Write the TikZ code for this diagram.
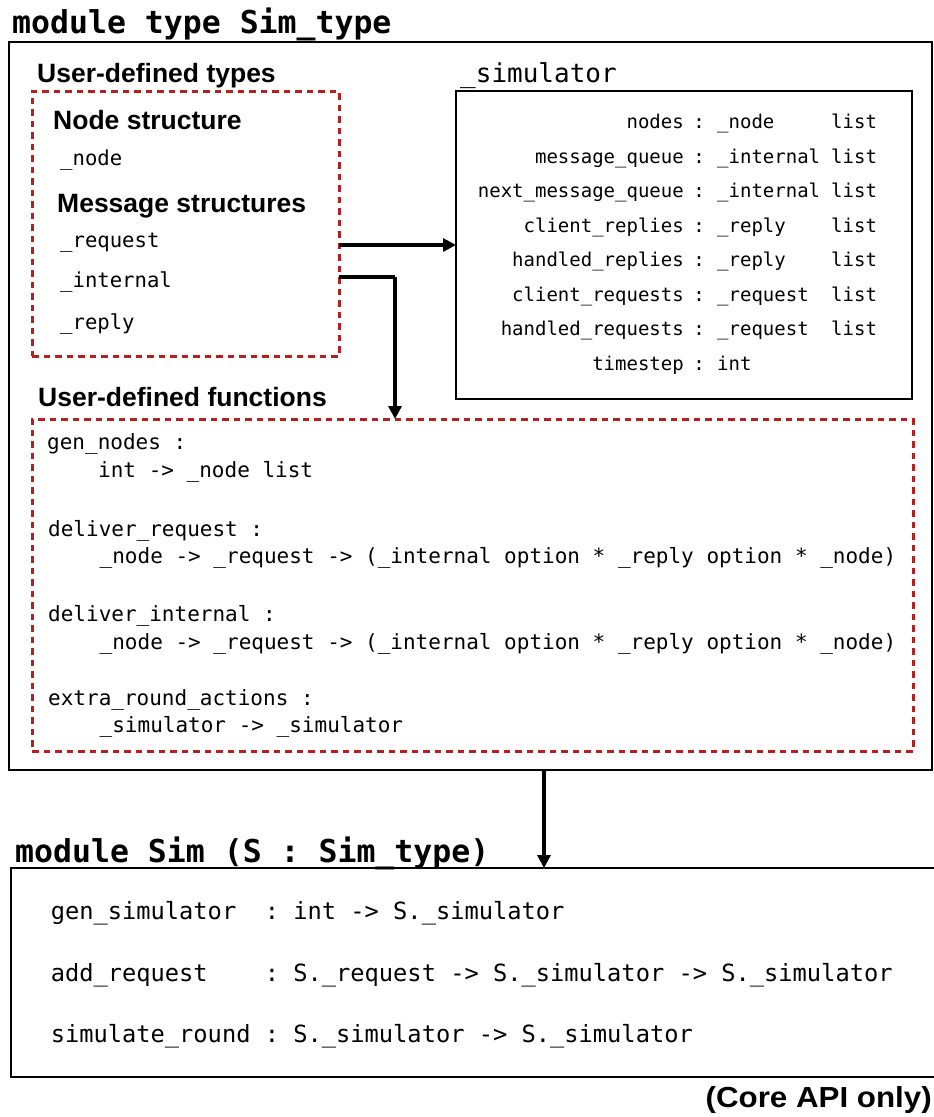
\documentclass[tikz,border=0pt]{standalone}
\usepackage{fontspec}
\setmainfont{Liberation Sans}
\newfontfamily\monof{DejaVu Sans Mono}
\newfontfamily\headf{Liberation Sans}
\newfontfamily\coref[FakeStretch=1.08]{Liberation Sans}
\usetikzlibrary{arrows.meta}
\definecolor{dred}{RGB}{180,32,32}
\frenchspacing
\begin{document}
\begin{tikzpicture}[x=1pt,y=-1pt,
  box/.style={draw=black, line width=1.6pt, inner sep=0, outer sep=0, anchor=north west},
  redbox/.style={draw=dred, line width=3pt, dash pattern=on 6.5pt off 5pt, inner sep=0, outer sep=0, anchor=north west},
  conn/.style={line width=3.5pt, -{Triangle[length=13pt,width=13pt]}},
  title/.style={font=\monof\bfseries\fontsize{31.5}{36}\selectfont, anchor=base west, inner sep=0},
  head/.style={font=\headf\bfseries\fontsize{26.5}{30}\selectfont, anchor=base west, inner sep=0},
  tname/.style={font=\monof\fontsize{20.6}{24}\selectfont, anchor=base west, inner sep=0},
  sfield/.style={font=\monof\fontsize{19}{22}\selectfont, inner sep=0},
  func/.style={font=\monof\fontsize{21}{24}\selectfont, anchor=base west, inner sep=0},
  api/.style={font=\monof\fontsize{23.7}{28}\selectfont, anchor=base west, inner sep=0}
]
\useasboundingbox (0,0) rectangle (934,1117);

% boxes
\node[box, minimum width=923, minimum height=728] (outer) at (9,42) {};
\node[redbox, minimum width=307, minimum height=265] (types) at (32,91) {};
\node[box, minimum width=456, minimum height=308] (sim) at (456,91) {};
\node[redbox, minimum width=881, minimum height=332] (funcs) at (32,419) {};
\node[box, minimum width=940, minimum height=209] (simmod) at (11,868) {};

% titles
\node[title] (t1) at (12,33) {module type Sim\_type};
\node[title] (t2) at (15,862) {module Sim (S : Sim\_type)};

% user-defined types
\node[head] (h1) at (37,82) {User-defined types};
\node[head] (h2) at (53,129) {Node structure};
\node[tname] (tn) at (60,165) {\_node};
\node[head] (h3) at (57,212) {Message structures};
\node[tname] (req) at (60,247) {\_request};
\node[tname] (int) at (60,287) {\_internal};
\node[tname] (rep) at (60,329) {\_reply};

% simulator
\node[font=\monof\fontsize{26}{30}\selectfont, anchor=base west, inner sep=0] (simlab) at (460,82) {\_simulator};
\foreach \n/\t/\l [count=\i from 0] in {
  nodes/\_node/list,
  message\_queue/\_internal/list,
  next\_message\_queue/\_internal/list,
  client\_replies/\_reply/list,
  handled\_replies/\_reply/list,
  client\_requests/\_request/list,
  handled\_requests/\_request/list,
  timestep/int/{}}{
  \pgfmathsetmacro{\yy}{128.8+34.5*\i}
  \node[sfield, anchor=base east] (sn\i) at (684,\yy) {\n};
  \node[sfield, anchor=base] (sc\i) at (699,\yy) {:};
  \node[sfield, anchor=base west] (st\i) at (717,\yy) {\t};
  \node[sfield, anchor=base west] (sl\i) at (831,\yy) {\l};
}

% user-defined functions
\node[head] (h4) at (38,406) {User-defined functions};
\node[func] (f1) at (47,449) {gen\_nodes :};
\node[func] (f2) at (98,477) {int -> \_node list};
\node[func] (f3) at (48,536) {deliver\_request :};
\node[func] (f4) at (99.5,563) {\_node -> \_request -> (\_internal option * \_reply option * \_node)};
\node[func] (f5) at (48,621.5) {deliver\_internal :};
\node[func] (f6) at (99.5,649.5) {\_node -> \_request -> (\_internal option * \_reply option * \_node)};
\node[func] (f7) at (48,705) {extra\_round\_actions :};
\node[func] (f8) at (99.5,732.5) {\_simulator -> \_simulator};

% module Sim
\node[api] (a1) at (50.6,919.5) {gen\_simulator~~: int -> S.\_simulator};
\node[api] (a2) at (50.6,981) {add\_request~~~~: S.\_request -> S.\_simulator -> S.\_simulator};
\node[api] (a3) at (50.6,1042.5) {simulate\_round : S.\_simulator -> S.\_simulator};

\node[font=\coref\bfseries\fontsize{29}{34}\selectfont, anchor=base east, inner sep=0] (core) at (932,1107) {(Core API only)};

% connectors
\coordinate (r1) at (339,245);
\coordinate (bend) at (395,277);
\coordinate (c3) at (544,0);
\draw[conn] (types.east |- r1) -- (sim.west |- r1);
\draw[line width=3.5pt] (types.east |- bend) -- (bend);
\draw[conn] (bend) -- (bend |- funcs.north);
\draw[conn] (outer.south -| c3) -- (simmod.north -| c3);
\end{tikzpicture}
\end{document}
